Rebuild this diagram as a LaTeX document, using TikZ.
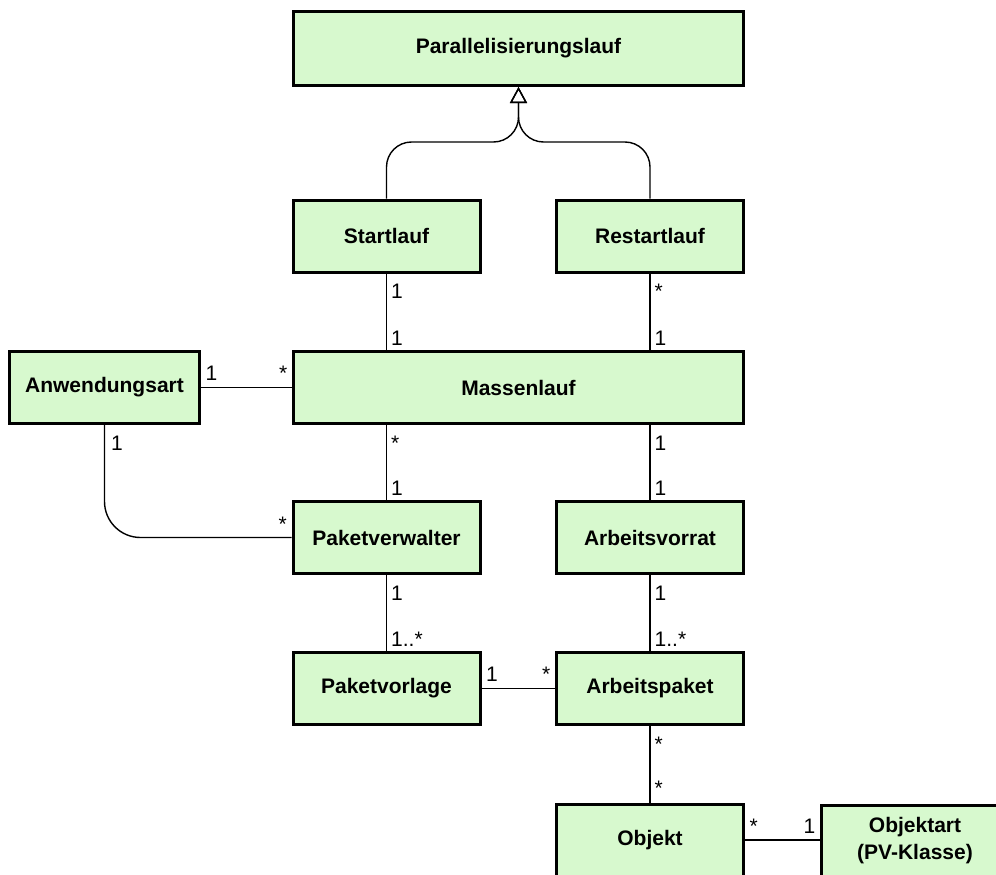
\documentclass[tikz,border=0pt]{standalone}
\usepackage{fontspec}
\setmainfont{Liberation Sans}
\usetikzlibrary{arrows.meta,positioning}
\definecolor{klgruen}{RGB}{215,249,206}

\begin{document}
\begin{tikzpicture}[x=1pt, y=-1pt,
        klasse/.style={draw, line width=3pt, fill=klgruen, align=center,
            font=\fontsize{21}{27}\selectfont\bfseries, inner sep=0pt},
        breit/.style={klasse, minimum width=450, minimum height=72},
        schmal/.style={klasse, minimum width=187, minimum height=72},
        assoz/.style={line width=1.4pt},
        mult/.style={font=\fontsize{21}{25}\selectfont, inner sep=0pt},
        oben/.style={mult, at start, anchor=base west, xshift=4, yshift=-25},
        unten/.style={mult, at end, anchor=base west, xshift=4, yshift=5},
        links/.style={mult, at start, anchor=base west, xshift=4, yshift=7},
        rechts/.style={mult, at end, anchor=base east, xshift=-4, yshift=7},
        erbt/.style={line width=1.4pt, rounded corners=25,
            -{Triangle[open, length=16pt, width=17pt, line width=1.4pt]}}]
    \useasboundingbox (0,0) rectangle (996,875);
    \clip (0,0) rectangle (996,875);

    % Klassen
    \node[breit, minimum height=74] (plauf) at (518.5,48.5) {Parallelisierungslauf};
    \node[schmal] (start) at (386.5,236) {Startlauf};
    \node[schmal] (restart) at (650,236) {Restartlauf};
    \node[breit] (massen) at (518.5,387.5) {Massenlauf};
    \node[schmal, minimum width=190] (anw) at (104.5,387.5) {Anwendungsart};
    \node[schmal] (pverw) at (386.5,537.5) {Paketverwalter};
    \node[schmal] (avorrat) at (650,537.5) {Arbeitsvorrat};
    \node[schmal] (pvorl) at (386.5,688.5) {Paketvorlage};
    \node[schmal] (apaket) at (650,688.5) {Arbeitspaket};
    \node[schmal] (objekt) at (650,840) {Objekt};
    \node[schmal] (oart) at (915,841) {Objektart\\(PV-Klasse)};

    % Vererbung
    \coordinate (gabel) at ([yshift=-55pt]plauf.south);
    \draw[erbt] (start.north) |- (gabel) -- (plauf.south);
    \draw[erbt] (restart.north) |- (gabel) -- (plauf.south);

    % Assoziationen
    \draw[assoz] (start.south) -- (start.south |- massen.north)
        node[oben] {1} node[unten] {1};
    \draw[assoz] (restart.south) -- (restart.south |- massen.north)
        node[oben] {*} node[unten] {1};
    \draw[assoz] (anw) -- (massen)
        node[links] {1} node[rechts] {*};
    \draw[assoz, rounded corners=36] (anw.south) |- (pverw.west)
        node[mult, at start, anchor=base west, xshift=6, yshift=-25] {1}
        node[mult, at end, anchor=base east, xshift=-4, yshift=6] {*};
    \draw[assoz] (massen.south -| pverw.north) -- (pverw.north)
        node[oben] {*} node[unten] {1};
    \draw[assoz] (massen.south -| avorrat.north) -- (avorrat.north)
        node[oben] {1} node[unten] {1};
    \draw[assoz] (pverw) -- (pvorl)
        node[oben] {1} node[unten] {1..*};
    \draw[assoz] (avorrat) -- (apaket)
        node[oben] {1} node[unten] {1..*};
    \draw[assoz] (pvorl) -- (apaket)
        node[links] {1} node[rechts] {*};
    \draw[assoz] (apaket) -- (objekt)
        node[oben] {*} node[unten, yshift=2] {*};
    \draw[assoz] (objekt.east) -- (objekt.east -| oart.west)
        node[links] {*} node[rechts] {1};
\end{tikzpicture}
\end{document}
